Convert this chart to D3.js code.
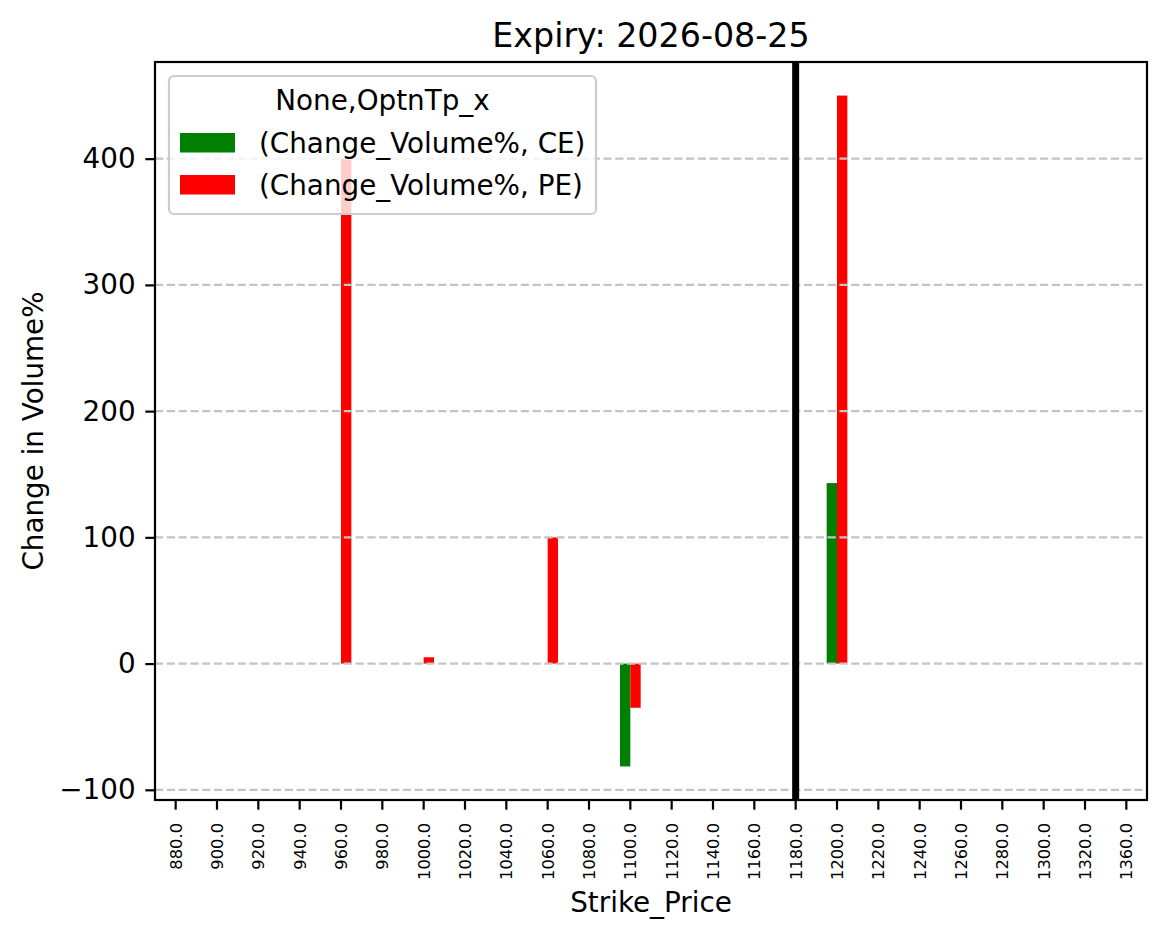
<!DOCTYPE html>
<html>
<head>
<meta charset="utf-8">
<script src="https://cdn.jsdelivr.net/npm/d3@7"></script>
<style>
  html, body { margin: 0; padding: 0; background: #fff; }
  svg { display: block; font-family: "DejaVu Sans", sans-serif; }
</style>
</head>
<body>
<svg id="chart" width="1166" height="939"></svg>
<script>
const strikes = [880, 900, 920, 940, 960, 980, 1000, 1020, 1040, 1060, 1080, 1100,
                 1120, 1140, 1160, 1180, 1200, 1220, 1240, 1260, 1280, 1300, 1320, 1360];
const ceValues = [null, null, null, null, null, null, null, null, null, null, null, -81.5,
                  null, null, null, null, 143, null, null, null, null, null, null, null];
const peValues = [null, null, null, null, 400, null, 5, null, null, 100, null, -35,
                  null, null, null, null, 450, null, null, null, null, null, null, null];
const seriesNames = ["(Change_Volume%, CE)", "(Change_Volume%, PE)"];
const seriesColors = ["#008000", "#ff0000"];
const yTicks = [-100, 0, 100, 200, 300, 400];
const spotStrike = 1180;
const titleText = "Expiry: 2026-08-25";
const xLabel = "Strike_Price";
const yLabel = "Change in Volume%";
const legendTitle = "None,OptnTp_x";

(function () {
const svg = d3.select("#chart");
const pLeft = 155, pRight = 1147, pTop = 62, pBottom = 800;

const x = d3.scaleBand().domain(strikes).range([pLeft, pRight]).padding(0);
const all = ceValues.concat(peValues).filter(v => v !== null);
const lo = Math.min(0, d3.min(all)), hi = Math.max(0, d3.max(all));
const pad = (hi - lo) * 0.05;
const y = d3.scaleLinear().domain([lo - pad, hi + pad]).range([pBottom, pTop]);

const bw = x.bandwidth() * 0.25;
const series = [ceValues, peValues];

// bars
series.forEach((vals, si) => {
  svg.append("g").selectAll("rect")
    .data(strikes.map((s, i) => ({ s, v: vals[i] })).filter(d => d.v !== null))
    .join("rect")
    .attr("x", d => x(d.s) + x.bandwidth() / 2 + (si === 0 ? -bw : 0))
    .attr("width", bw)
    .attr("y", d => y(Math.max(0, d.v)))
    .attr("height", d => Math.abs(y(d.v) - y(0)))
    .attr("fill", seriesColors[si]);
});

// grid
svg.append("g").selectAll("line").data(yTicks).join("line")
  .attr("x1", pLeft).attr("x2", pRight)
  .attr("y1", d => y(d)).attr("y2", d => y(d))
  .attr("stroke", "#c4c4c4").attr("stroke-width", 2.2)
  .attr("stroke-dasharray", "8.2,3.6");

// spot line
const sx = x(spotStrike) + x.bandwidth() / 2;
svg.append("line")
  .attr("x1", sx).attr("x2", sx)
  .attr("y1", pTop).attr("y2", pBottom)
  .attr("stroke", "#000").attr("stroke-width", 7);

// y axis
const yAxis = d3.axisLeft(y).tickValues(yTicks).tickSize(9.7).tickPadding(9.7)
  .tickFormat(d => d < 0 ? "\u2212" + Math.abs(d) : d);
const gy = svg.append("g").attr("transform", `translate(${pLeft},0)`).call(yAxis);
gy.select(".domain").remove();
gy.selectAll(".tick line").attr("stroke", "#000").attr("stroke-width", 2.2);
gy.selectAll(".tick text").attr("font-size", 27.8).attr("fill", "#000")
  .attr("font-family", "DejaVu Sans");

// x axis
const xAxis = d3.axisBottom(x).tickSize(9.7).tickPadding(0).tickFormat(d => d.toFixed(1));
const gx = svg.append("g").attr("transform", `translate(0,${pBottom})`).call(xAxis);
gx.select(".domain").remove();
gx.selectAll(".tick line").attr("stroke", "#000").attr("stroke-width", 2.2);
gx.selectAll(".tick text")
  .attr("font-size", 16.3).attr("fill", "#000").attr("font-family", "DejaVu Sans")
  .attr("text-anchor", "end")
  .attr("transform", "translate(0,23) rotate(-90)")
  .attr("x", 0).attr("y", 0).attr("dy", "0.36em");

// frame
svg.append("rect").attr("x", pLeft).attr("y", pTop)
  .attr("width", pRight - pLeft).attr("height", pBottom - pTop)
  .attr("fill", "none").attr("stroke", "#000").attr("stroke-width", 2.2);

// title & labels
svg.append("text").attr("x", (pLeft + pRight) / 2).attr("y", 47)
  .attr("text-anchor", "middle").attr("font-size", 33.3).text(titleText);
svg.append("text").attr("x", (pLeft + pRight) / 2).attr("y", 912)
  .attr("text-anchor", "middle").attr("font-size", 27.8).text(xLabel);
svg.append("text").attr("transform", `translate(43,${(pTop + pBottom) / 2}) rotate(-90)`)
  .attr("text-anchor", "middle").attr("font-size", 27.8).text(yLabel);

// legend
const lg = svg.append("g");
lg.append("rect").attr("x", 169).attr("y", 76).attr("width", 427).attr("height", 138)
  .attr("rx", 5).attr("ry", 5)
  .attr("fill", "#fff").attr("fill-opacity", 0.8)
  .attr("stroke", "#cccccc").attr("stroke-width", 2.2);
lg.append("text").attr("x", 382.5).attr("y", 110).attr("text-anchor", "middle")
  .attr("font-size", 27.8).text(legendTitle);
seriesNames.forEach((name, i) => {
  lg.append("rect").attr("x", 180).attr("y", 133 + i * 42).attr("width", 55).attr("height", 19.5)
    .attr("fill", seriesColors[i]);
  lg.append("text").attr("x", 259).attr("y", 153 + i * 42)
    .attr("font-size", 27.8).text(name);
});
})();
</script>
</body>
</html>
